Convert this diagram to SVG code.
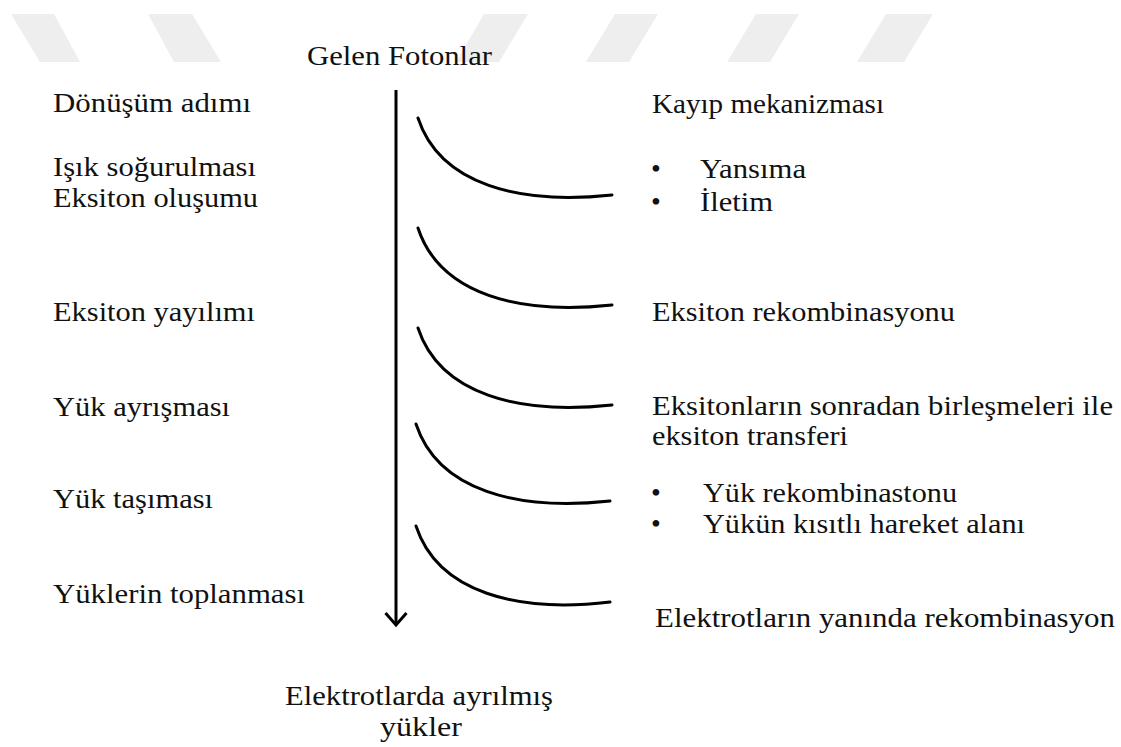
<svg xmlns="http://www.w3.org/2000/svg" width="1121" height="747" viewBox="0 0 1121 747">
<style>
.t{font-family:"Liberation Serif","Times New Roman",serif;font-size:28px;fill:#111}
.c{fill:none;stroke:#000;stroke-width:3;stroke-linecap:round}
.w{fill:#eeeeee}
</style>
<defs>
<marker id="ah" markerWidth="16" markerHeight="24" refX="13" refY="12" orient="auto" markerUnits="userSpaceOnUse" viewBox="0 0 16 24">
<path d="M1,1.5 L13,12 L1,22.5" fill="none" stroke="#000" stroke-width="3"/>
</marker>
</defs>
<rect width="1121" height="747" fill="#fff"/>
<g id="watermark">
<polygon class="w" points="11,14 54,14 80,62 40,62"/>
<polygon class="w" points="148,14 192,14 221,62 174,62"/>
<polygon class="w" points="484,14 528,14 499,62 456,62"/>
<polygon class="w" points="615,14 658,14 629,62 586,62"/>
<polygon class="w" points="756,14 799,14 770,62 727,62"/>
<polygon class="w" points="886,14 933,14 904,62 857,62"/>
</g>
<g id="connectors">
<line x1="396" y1="90" x2="396" y2="625" stroke="#000" stroke-width="3" marker-end="url(#ah)"/>
<path class="c" d="M418,118 C440,185 520,205 612,195"/>
<path class="c" d="M418,228 C440,295 520,315 612,305"/>
<path class="c" d="M418,328 C440,395 520,415 612,405"/>
<path class="c" d="M416,424 C438,491 518,511 610,501"/>
<path class="c" d="M416,526 C438,593 518,613 610,602"/>
</g>
<g id="top"><text class="t" x="307" y="65" textLength="185" lengthAdjust="spacingAndGlyphs">Gelen Fotonlar</text></g>
<g id="bottom">
<text class="t" x="285" y="705" textLength="268" lengthAdjust="spacingAndGlyphs">Elektrotlarda ayrılmış</text>
<text class="t" x="380" y="736" textLength="82" lengthAdjust="spacingAndGlyphs">yükler</text>
</g>
<g id="steps">
<text class="t" x="53" y="112" textLength="198" lengthAdjust="spacingAndGlyphs">Dönüşüm adımı</text>
<text class="t" x="53" y="176" textLength="203" lengthAdjust="spacingAndGlyphs">Işık soğurulması</text>
<text class="t" x="53" y="207" textLength="205" lengthAdjust="spacingAndGlyphs">Eksiton oluşumu</text>
<text class="t" x="53" y="321" textLength="202" lengthAdjust="spacingAndGlyphs">Eksiton yayılımı</text>
<text class="t" x="53" y="416" textLength="177" lengthAdjust="spacingAndGlyphs">Yük ayrışması</text>
<text class="t" x="53" y="508" textLength="160" lengthAdjust="spacingAndGlyphs">Yük taşıması</text>
<text class="t" x="53" y="603" textLength="252" lengthAdjust="spacingAndGlyphs">Yüklerin toplanması</text>
</g>
<g id="losses">
<text class="t" x="652" y="113" textLength="232" lengthAdjust="spacingAndGlyphs">Kayıp mekanizması</text>
<text class="t" x="651" y="178">•</text>
<text class="t" x="700" y="178" textLength="106" lengthAdjust="spacingAndGlyphs">Yansıma</text>
<text class="t" x="651" y="211">•</text>
<text class="t" x="700" y="211" textLength="73" lengthAdjust="spacingAndGlyphs">İletim</text>
<text class="t" x="652" y="321" textLength="303" lengthAdjust="spacingAndGlyphs">Eksiton rekombinasyonu</text>
<text class="t" x="652" y="415" textLength="461" lengthAdjust="spacingAndGlyphs">Eksitonların sonradan birleşmeleri ile</text>
<text class="t" x="652" y="445" textLength="196" lengthAdjust="spacingAndGlyphs">eksiton transferi</text>
<text class="t" x="651" y="502">•</text>
<text class="t" x="703" y="502" textLength="254" lengthAdjust="spacingAndGlyphs">Yük rekombinastonu</text>
<text class="t" x="651" y="533">•</text>
<text class="t" x="703" y="533" textLength="322" lengthAdjust="spacingAndGlyphs">Yükün kısıtlı hareket alanı</text>
<text class="t" x="655" y="627" textLength="460" lengthAdjust="spacingAndGlyphs">Elektrotların yanında rekombinasyon</text>
</g>
</svg>
